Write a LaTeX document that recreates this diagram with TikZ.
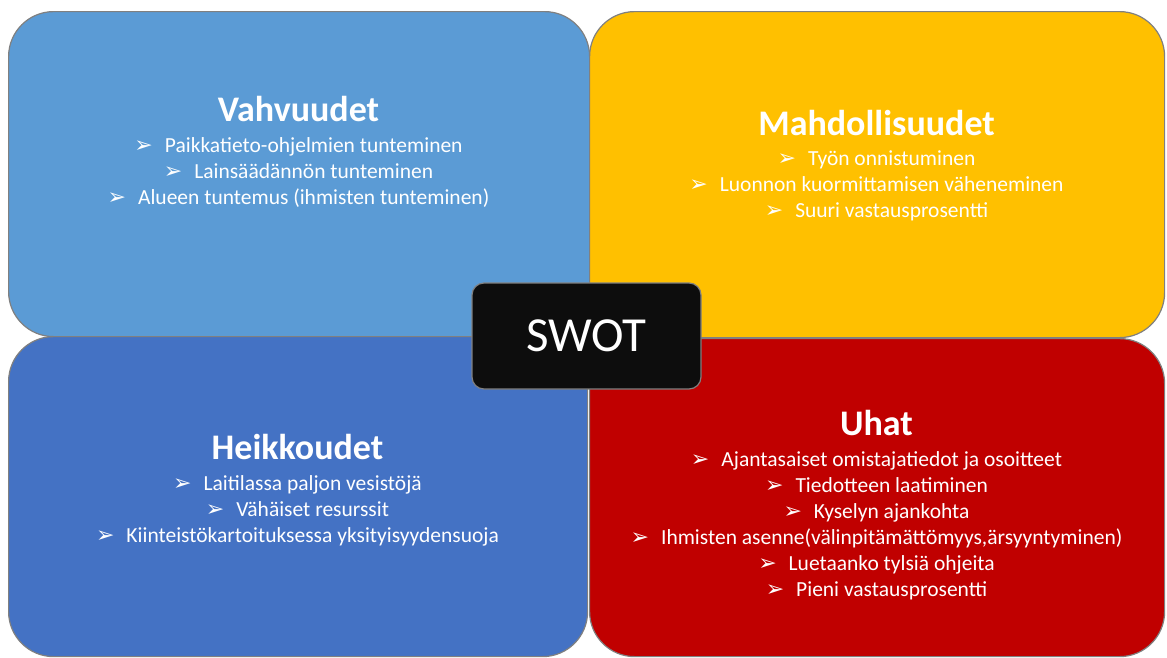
\documentclass[tikz,border=0pt]{standalone}
\usepackage{fontspec}
\setmainfont{Carlito}
\newfontfamily\dingfont{DejaVu Sans}
\definecolor{vahvcol}{RGB}{91,155,213}
\definecolor{mahdcol}{RGB}{255,192,0}
\definecolor{heikcol}{RGB}{68,114,196}
\definecolor{uhatcol}{RGB}{192,0,0}
\definecolor{edgecol}{RGB}{128,128,128}
\definecolor{swotcol}{RGB}{13,13,13}
\newcommand{\blt}{{\dingfont\fontsize{22}{22}\selectfont ➢}\hspace{12pt}}
\tikzset{
	quad/.style={draw=edgecol,line width=1.2pt,rounded corners=45pt,inner sep=0pt,anchor=north west},
	title/.style={text=white,font=\fontsize{36}{40}\selectfont\bfseries,anchor=base,inner sep=0pt},
	item/.style={text=white,font=\fontsize{21.5}{26}\selectfont,anchor=base,inner sep=0pt}
}
\begin{document}
\begin{tikzpicture}[x=1pt,y=-1pt,line join=round]
			\useasboundingbox (0,0) rectangle (1167,657);
			\node[quad,fill=vahvcol,minimum width=581pt,minimum height=325pt] (S) at (8,11) {};
			\node[quad,fill=mahdcol,minimum width=575pt,minimum height=326pt] (O) at (589,11) {};
			\node[quad,fill=heikcol,minimum width=579pt,minimum height=320pt] (W) at (8,336) {};
			\node[quad,fill=uhatcol,minimum width=575pt,minimum height=318pt] (T) at (589,338) {};
			\node[title] (Stitle) at (298.5,121) {Vahvuudet};
			\node[title] (Otitle) at (876.5,135) {Mahdollisuudet};
			\node[title] (Wtitle) at (297.5,459) {Heikkoudet};
			\node[title] (Ttitle) at (876.5,435) {Uhat};
			\foreach \t [count=\i] in {Paikkatieto-ohjelmien tunteminen,Lainsäädännön tunteminen,Alueen tuntemus (ihmisten tunteminen)}
			\node[item] (S\i) at (298.5,{152+26*(\i-1)}) {\blt\t};
			\foreach \t [count=\i] in {Työn onnistuminen,Luonnon kuormittamisen väheneminen,Suuri vastausprosentti}
			\node[item] (O\i) at (876.5,{165+26*(\i-1)}) {\blt\t};
			\foreach \t [count=\i] in {Laitilassa paljon vesistöjä,Vähäiset resurssit,Kiinteistökartoituksessa yksityisyydensuoja}
			\node[item] (W\i) at (297.5,{490+26*(\i-1)}) {\blt\t};
			\foreach \t [count=\i] in {Ajantasaiset omistajatiedot ja osoitteet,Tiedotteen laatiminen,Kyselyn ajankohta,{Ihmisten asenne(välinpitämättömyys,ärsyyntyminen)},Luetaanko tylsiä ohjeita,Pieni vastausprosentti}
			\node[item] (T\i) at (876.5,{466+26*(\i-1)}) {\blt\t};
			\node[fill=swotcol,draw=edgecol,line width=1.2pt,rounded corners=12pt,minimum width=229pt,minimum height=106pt,text=white,font=\fontsize{49}{50}\selectfont] (swot) at (586.5,336) {SWOT};
\end{tikzpicture}
\end{document}
